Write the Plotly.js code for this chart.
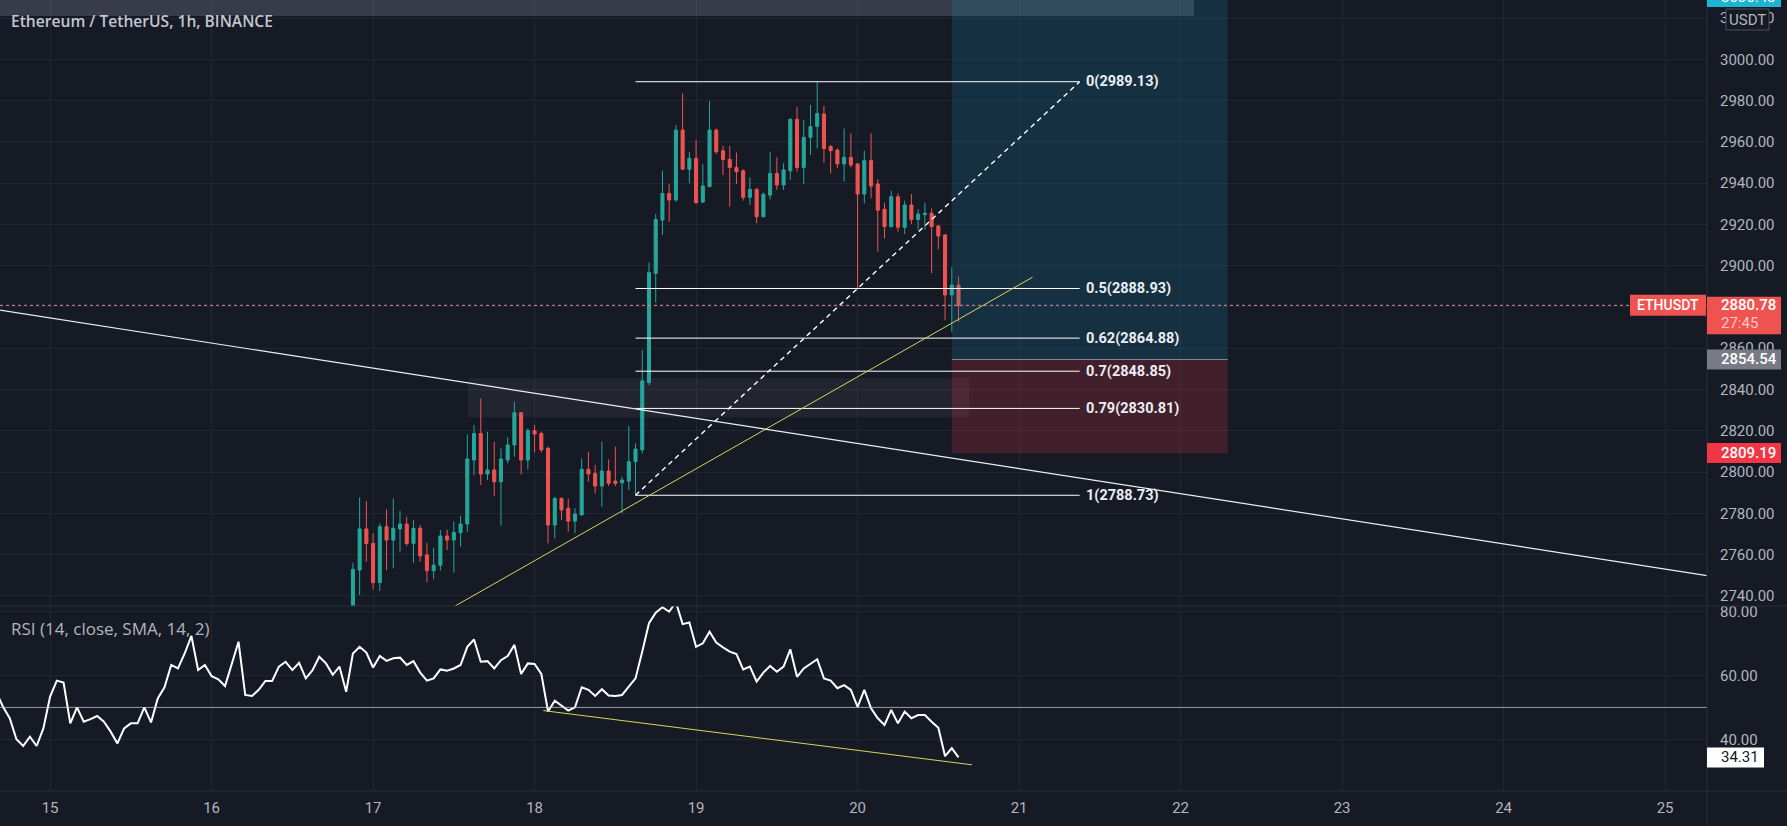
<!DOCTYPE html>
<html><head><meta charset="utf-8">
<script src="https://cdn.plot.ly/plotly-3.0.1.min.js"></script>
<style>html,body{margin:0;padding:0;background:#161a25;overflow:hidden}#chart{width:1787px;height:826px}</style>
</head><body><div id="chart"></div>
<script>
// ---- data (hours counted from day 15, 00:00) ----
const dayLabels = ['15','16','17','18','19','20','21','22','23','24','25'];
const dayTickHours = [0,24,48,72,96,120,144,168,192,216,240];
const firstCandleHour = 45;
const candleOpen = [2733,2752.5,2772.4,2765.4,2746.4,2773.5,2767.0,2772.4,2774.8,2765.4,
 2772.7,2759.8,2752.2,2754.8,2769.0,2767.0,2770.6,2774.8,2805.8,2818.7,
 2799.0,2801.0,2795.3,2805.8,2813.1,2828.7,2805.8,2820.0,2818.7,2811.5,
 2774.3,2787.2,2782.4,2776.2,2779.2,2801.3,2799.3,2793.2,2800.5,2795.6,
 2794.8,2795.6,2805.0,2810.7,2843.3,2896.3,2922.1,2935.0,2931.8,2965.7,
 2946.7,2952.0,2930.8,2938.3,2965.7,2955.7,2951.5,2947.6,2946.0,2933.1,
 2937.0,2923.7,2934.2,2944.7,2939.1,2946.0,2970.9,2947.6,2962.2,2967.4,
 2973.5,2957.7,2956.0,2949.3,2952.5,2949.3,2934.7,2950.9,2939.6,2927.3,
 2918.9,2933.4,2918.6,2929.4,2922.4,2924.7,2925.4,2919.2,2914.9,2885.8,
 2890.6];
const candleHigh = [2756.0,2787.7,2785.9,2770.3,2775.1,2781.9,2787.2,2781.1,2778.3,2776.7,
 2774.3,2765.7,2763.3,2771.9,2772.2,2776.0,2778.7,2818.2,2822.8,2835.7,
 2819.5,2814.7,2811.5,2816.8,2834.1,2828.9,2821.2,2822.8,2819.5,2812.3,
 2788.0,2787.7,2787.2,2782.4,2806.6,2809.8,2803.4,2814.7,2806.1,2812.3,
 2797.7,2822.3,2813.9,2859.1,2901.5,2925.0,2946.0,2939.6,2968.2,2983.5,
 2955.2,2960.9,2949.1,2979.8,2966.5,2958.0,2958.0,2954.8,2946.7,2942.8,
 2937.5,2935.4,2955.2,2952.5,2949.6,2971.4,2977.0,2970.6,2977.9,2989.13,
 2977.4,2958.5,2956.8,2966.5,2964.1,2949.6,2955.7,2964.1,2941.8,2930.5,
 2936.3,2935.0,2931.5,2934.7,2927.3,2930.5,2927.8,2919.7,2915.2,2899.2,
 2894.7];
const candleLow = [2728.0,2740.4,2756.5,2743.1,2742.3,2752.5,2753.3,2761.4,2764.1,2756.0,
 2756.5,2746.5,2748.0,2752.2,2762.2,2751.2,2763.8,2771.1,2798.5,2793.7,
 2796.1,2788.5,2774.0,2804.2,2807.4,2798.9,2801.3,2809.4,2809.4,2765.4,
 2767.8,2776.7,2771.1,2770.3,2779.0,2795.3,2789.6,2783.2,2793.2,2793.2,
 2780.0,2791.3,2788.73,2809.0,2842.1,2882.1,2914.9,2921.3,2931.0,2946.4,
 2939.9,2930.0,2930.5,2938.0,2954.1,2943.9,2928.6,2939.6,2931.5,2929.4,
 2920.5,2923.4,2932.1,2936.7,2936.7,2941.5,2945.5,2939.6,2953.6,2956.8,
 2949.9,2944.7,2947.2,2940.7,2947.6,2889.0,2930.2,2932.6,2906.8,2913.2,
 2918.5,2916.5,2915.3,2920.2,2917.3,2917.3,2896.3,2907.9,2873.6,2868.0,
 2872.8];
const candleClose = [2752.8,2772.4,2765.4,2746.4,2773.5,2767.0,2772.7,2774.8,2765.4,2772.7,
 2759.3,2752.2,2754.8,2769.0,2767.0,2770.7,2774.8,2806.3,2818.7,2799.0,
 2801.0,2795.3,2806.3,2813.1,2828.7,2805.8,2820.0,2818.4,2810.7,2774.3,
 2787.2,2781.6,2776.2,2779.6,2801.3,2799.0,2793.2,2800.5,2794.5,2794.5,
 2796.1,2805.0,2811.1,2844.1,2896.6,2922.4,2935.0,2931.8,2965.7,2946.7,
 2952.0,2930.5,2938.6,2965.7,2955.2,2951.5,2947.6,2945.5,2933.1,2937.0,
 2923.7,2934.6,2944.7,2939.1,2946.4,2970.9,2947.6,2962.2,2967.4,2973.8,
 2956.8,2955.7,2949.3,2952.5,2948.8,2934.7,2950.9,2938.6,2926.9,2918.9,
 2933.4,2918.6,2929.4,2922.4,2925.0,2925.4,2918.9,2914.4,2885.8,2890.6,
 2880.78];
const firstRsiHour = -8;
const rsiValues = [54.9,50.2,46.6,40.0,37.9,40.8,37.9,43.4,53.4,58.4,
 57.8,45.0,50.0,45.5,46.3,47.3,45.5,42.4,38.7,43.4,
 45.0,45.0,50.0,45.3,52.8,56.3,63.3,62.2,66.9,72.4,
 61.7,63.3,59.8,58.8,56.7,63.8,70.6,53.9,53.6,55.5,
 58.3,58.3,62.8,64.3,61.7,64.0,59.1,61.7,65.9,63.8,
 60.2,62.8,54.9,66.9,69.0,67.2,62.5,66.1,64.6,65.4,
 65.6,63.3,64.5,60.9,58.4,59.1,61.9,61.5,62.2,63.3,
 69.0,71.3,64.3,64.5,62.2,64.8,66.1,69.6,60.5,63.8,
 63.6,60.5,48.7,52.1,50.4,49.0,50.0,56.3,55.5,53.6,
 55.7,53.7,53.6,53.9,56.5,59.1,67.5,76.4,79.7,81.4,
 80.0,83.0,76.1,76.6,69.0,70.1,73.7,70.3,68.8,67.5,
 66.7,61.9,62.8,58.1,60.9,63.0,61.2,62.8,68.2,59.6,
 62.2,63.6,65.1,59.1,58.4,56.0,57.0,55.5,50.2,55.5,
 49.7,46.6,44.5,49.2,45.0,48.7,46.6,47.6,47.6,45.5,
 43.6,34.7,37.2,34.31];
// drawings
const fibHours = [87, 153];
const fibRatios = ['0','0.5','0.62','0.7','0.79','1'];
const fibPrices = [2989.13, 2888.93, 2864.88, 2848.85, 2830.81, 2788.73];
const yellowTrendHours = [58, 146];
const yellowTrendPrices = [2731.0, 2894.4];
const whiteTrendHours = [-8, 247];
const whiteTrendPrices = [2878.7, 2749.4];
const zoneHours = [62.1, 136.6];
const zonePrices = [2826.5, 2845.4];
const topZoneHours = [-8, 170];
const topZonePrices = [3021.0, 3045.0];
const positionHours = [134, 175];
const positionEntry = 2854.54, positionStop = 2809.19, positionTarget = 3036.43;
const lastPrice = 2880.78;
const countdown = '27:45';
const rsiLevel = 50;
const rsiTrendHours = [73.3, 137];
const rsiTrendValues = [49.0, 32.0];

// ---- build ----
const candleHours = candleOpen.map((_, i) => firstCandleHour + i);
const rsiHours = rsiValues.map((_, i) => firstRsiHour + i);
const lastRsi = rsiValues[rsiValues.length - 1];

const BG = '#161a25', GRID = '#222633', BORDER = '#2a2e39', TXT = '#b2b5be';
const PLOT_W = 1707, PLOT_H = 791;
const SPLIT = 185 / 791;
const X_RANGE = [-7.445, 246.23];
const MAIN_RANGE = [2735.06, 3028.74];
const RSI_RANGE = [23.79, 81.79];
const mainPaper = p => SPLIT + (p - MAIN_RANGE[0]) / (MAIN_RANGE[1] - MAIN_RANGE[0]) * (1 - SPLIT);
const rsiPaper = v => (v - RSI_RANGE[0]) / (RSI_RANGE[1] - RSI_RANGE[0]) * SPLIT;
const px = n => n / PLOT_H;   // vertical pixels -> paper
const pxw = n => n / PLOT_W;  // horizontal pixels -> paper

const traces = [
  {type: 'candlestick', x: candleHours, open: candleOpen, high: candleHigh, low: candleLow, close: candleClose,
   xaxis: 'x', yaxis: 'y', whiskerwidth: 0, hoverinfo: 'skip', showlegend: false,
   increasing: {line: {color: '#26a69a', width: 1}, fillcolor: '#26a69a'},
   decreasing: {line: {color: '#ef5350', width: 1}, fillcolor: '#ef5350'}},
  {type: 'scatter', mode: 'lines', x: rsiHours, y: rsiValues, xaxis: 'x', yaxis: 'y2',
   line: {color: '#ffffff', width: 2}, hoverinfo: 'skip', showlegend: false}
];

const shapes = [];
// zones under candles
shapes.push({type: 'rect', layer: 'between', xref: 'x', yref: 'y', x0: zoneHours[0], x1: zoneHours[1], y0: zonePrices[0], y1: zonePrices[1],
  fillcolor: 'rgba(120,123,134,0.12)', line: {width: 0}});
shapes.push({type: 'rect', layer: 'between', xref: 'x', yref: 'y', x0: topZoneHours[0], x1: topZoneHours[1], y0: topZonePrices[0], y1: topZonePrices[1],
  fillcolor: 'rgba(130,134,146,0.32)', line: {width: 0}});
// long position tool
shapes.push({type: 'rect', layer: 'above', xref: 'x', yref: 'y', x0: positionHours[0], x1: positionHours[1], y0: positionEntry, y1: positionTarget,
  fillcolor: 'rgba(20,140,180,0.2)', line: {width: 0}});
shapes.push({type: 'rect', layer: 'above', xref: 'x', yref: 'y', x0: positionHours[0], x1: positionHours[1], y0: positionStop, y1: positionEntry,
  fillcolor: 'rgba(242,54,69,0.2)', line: {width: 0}});
shapes.push({type: 'line', layer: 'above', xref: 'x', yref: 'y', x0: positionHours[0], x1: positionHours[1], y0: positionEntry, y1: positionEntry,
  line: {color: 'rgba(178,181,190,0.7)', width: 1}});
// fib levels
fibPrices.forEach(p => shapes.push({type: 'line', layer: 'above', xref: 'x', yref: 'y', x0: fibHours[0], x1: fibHours[1], y0: p, y1: p,
  line: {color: '#ffffff', width: 1}}));
shapes.push({type: 'line', layer: 'above', xref: 'x', yref: 'y', x0: fibHours[0], x1: fibHours[1], y0: fibPrices[5], y1: fibPrices[0],
  line: {color: '#ffffff', width: 1.4, dash: '5px,4px'}});
// trend lines
shapes.push({type: 'line', layer: 'above', xref: 'x', yref: 'y', x0: yellowTrendHours[0], x1: yellowTrendHours[1], y0: yellowTrendPrices[0], y1: yellowTrendPrices[1],
  line: {color: '#d9d35c', width: 1}});
shapes.push({type: 'line', layer: 'above', xref: 'x', yref: 'y', x0: whiteTrendHours[0], x1: whiteTrendHours[1], y0: whiteTrendPrices[0], y1: whiteTrendPrices[1],
  line: {color: '#eeeef3', width: 1.2}});
// last price dotted line
shapes.push({type: 'line', layer: 'above', xref: 'x', yref: 'y', x0: X_RANGE[0], x1: X_RANGE[1], y0: lastPrice, y1: lastPrice,
  line: {color: '#e08c8c', width: 1, dash: 'dot'}});
// RSI level & trend
shapes.push({type: 'line', layer: 'above', xref: 'x', yref: 'y2', x0: X_RANGE[0], x1: X_RANGE[1], y0: rsiLevel, y1: rsiLevel,
  line: {color: 'rgba(200,202,210,0.75)', width: 1}});
shapes.push({type: 'line', layer: 'above', xref: 'x', yref: 'y2', x0: rsiTrendHours[0], x1: rsiTrendHours[1], y0: rsiTrendValues[0], y1: rsiTrendValues[1],
  line: {color: '#d9d35c', width: 1}});
// pane borders
shapes.push({type: 'line', layer: 'above', xref: 'paper', yref: 'paper', x0: 0, x1: 1787 / PLOT_W, y0: SPLIT, y1: SPLIT, line: {color: BORDER, width: 1}});
shapes.push({type: 'line', layer: 'above', xref: 'paper', yref: 'paper', x0: 0, x1: 1787 / PLOT_W, y0: 0, y1: 0, line: {color: BORDER, width: 1}});
shapes.push({type: 'line', layer: 'above', xref: 'paper', yref: 'paper', x0: 1, x1: 1, y0: -35 / PLOT_H, y1: 1, line: {color: BORDER, width: 1}});

// axis label boxes
function labelBox(x0px, x1px, yc, hUp, hDown, color, border) {
  shapes.push({type: 'rect', layer: 'above', xref: 'paper', yref: 'paper',
    x0: x0px / PLOT_W, x1: x1px / PLOT_W, y0: yc - px(hDown), y1: yc + px(hUp),
    fillcolor: color, line: border ? {color: border, width: 1} : {width: 0}});
}
const yLast = mainPaper(lastPrice);
labelBox(1630, 1706, yLast, 10.5, 10.5, '#ef5350');
labelBox(1707, 1781, yLast, 8.5, 29, '#ef5350');
labelBox(1707, 1781, mainPaper(positionEntry), 10, 10, '#787b86');
labelBox(1707, 1781, mainPaper(positionStop), 10, 10, '#f23645');
labelBox(1707, 1781, 1 + px(3), 10, 10, '#1cb5d3');
labelBox(1707, 1764, rsiPaper(lastRsi), 10, 10, '#ffffff');
labelBox(1726, 1769, 1 - px(19.5), 10.5, 10.5, BG, '#4a4e5a');

const FONT = 'Roboto, "Open Sans", sans-serif';
const annotations = [];
function txt(x, y, text, opts) {
  annotations.push(Object.assign({xref: 'paper', yref: 'paper', x: x, y: y, text: text, showarrow: false,
    xanchor: 'left', yanchor: 'middle', font: {family: FONT, size: 15, color: '#ffffff'}}, opts || {}));
}
txt(pxw(9), 1 - px(20.7), 'Ethereum / TetherUS, 1h, BINANCE', {font: {family: '"Open Sans", sans-serif', size: 15.6, color: '#c3c6ce', weight: 600}});
txt(pxw(9), 1 - px(628.3), 'RSI (14, close, SMA, 14, 2)', {font: {family: '"Open Sans", sans-serif', size: 17, color: TXT}});
// fib labels
fibPrices.forEach((p, i) => annotations.push({xref: 'x', yref: 'y', x: fibHours[1], y: p, xanchor: 'left', yanchor: 'middle', xshift: 4,
  text: fibRatios[i] + '(' + p.toFixed(2) + ')', showarrow: false, font: {family: FONT, size: 14.5, color: '#eceef3', weight: 700}}));
// price labels
txt(pxw(1668), yLast, 'ETHUSDT', {xanchor: 'center', font: {family: FONT, size: 14, color: '#ffffff', weight: 500}});
txt(1, yLast, lastPrice.toFixed(2), {xshift: 12, font: {family: FONT, size: 15, color: '#ffffff', weight: 500}});
txt(1, yLast - px(18), countdown, {xshift: 12, font: {family: FONT, size: 15, color: '#ffc9c6'}});
txt(1, mainPaper(positionEntry), positionEntry.toFixed(2), {xshift: 12, font: {family: FONT, size: 15, color: '#ffffff', weight: 500}});
txt(1, mainPaper(positionStop), positionStop.toFixed(2), {xshift: 12, font: {family: FONT, size: 15, color: '#ffffff', weight: 500}});
txt(1, 1 + px(3), positionTarget.toFixed(2), {xshift: 12, font: {family: FONT, size: 15, color: '#ffffff'}});
txt(1, rsiPaper(lastRsi), lastRsi.toFixed(2), {xshift: 12, font: {family: FONT, size: 15, color: '#131722'}});
txt(pxw(1747.5), 1 - px(19.5), 'USDT', {xanchor: 'center', font: {family: FONT, size: 15, color: TXT}});

const layout = {
  width: 1787, height: 826,
  margin: {l: 0, r: 80, t: 0, b: 35, pad: 0},
  paper_bgcolor: BG, plot_bgcolor: BG,
  showlegend: false, boxgap: 0.35,
  font: {family: FONT, size: 15, color: TXT},
  xaxis: {range: X_RANGE, anchor: 'y2', tickmode: 'array', tickvals: dayTickHours, ticktext: dayLabels,
    showgrid: true, gridcolor: GRID, gridwidth: 1, zeroline: false, ticks: '', showline: false,
    tickfont: {family: FONT, size: 15, color: TXT}, ticklabelstandoff: 6,
    rangeslider: {visible: false}, fixedrange: true},
  yaxis: {domain: [SPLIT, 1], range: MAIN_RANGE, side: 'right', anchor: 'x', tick0: 0, dtick: 20, tickformat: '.2f',
    showgrid: true, gridcolor: GRID, zeroline: false, ticks: '', showline: false,
    tickfont: {family: FONT, size: 15, color: TXT}, ticklabelstandoff: 12, fixedrange: true},
  yaxis2: {domain: [0, SPLIT], range: RSI_RANGE, side: 'right', anchor: 'x', tickmode: 'array', tickvals: [40, 60, 80], tickformat: '.2f',
    showgrid: true, gridcolor: GRID, zeroline: false, ticks: '', showline: false,
    tickfont: {family: FONT, size: 15, color: TXT}, ticklabelstandoff: 12, fixedrange: true},
  shapes: shapes,
  annotations: annotations
};

Plotly.newPlot('chart', traces, layout, {staticPlot: true, displayModeBar: false});
</script>
</body></html>
